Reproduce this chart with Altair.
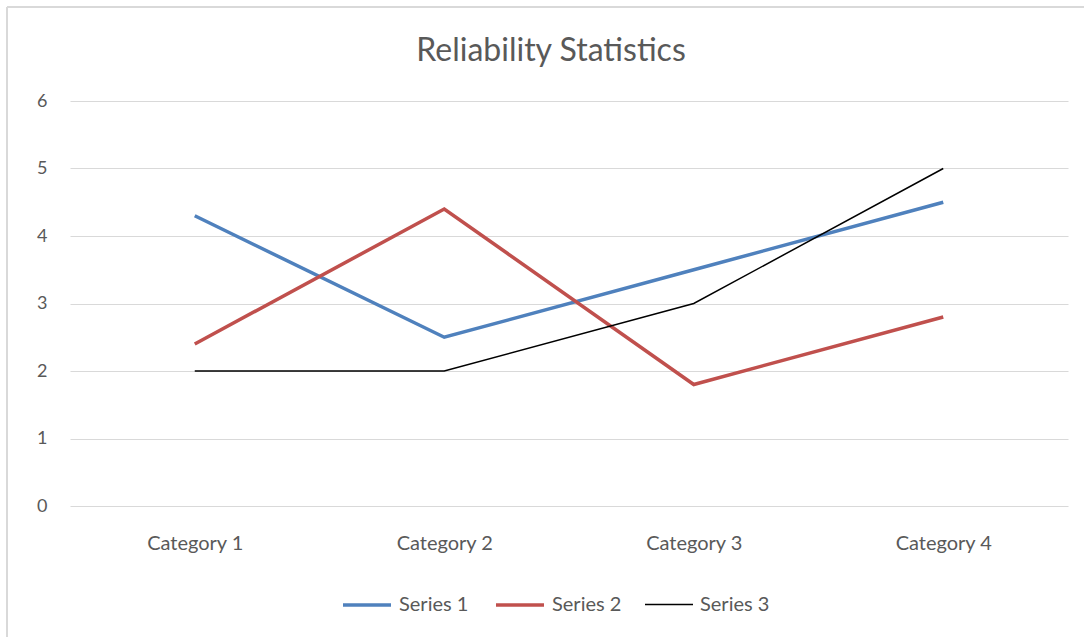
import altair as alt
import pandas as pd

categories = ["Category 1", "Category 2", "Category 3", "Category 4"]
series_names = ["Series 1", "Series 2", "Series 3"]
series1 = [4.3, 2.5, 3.5, 4.5]
series2 = [2.4, 4.4, 1.8, 2.8]
series3 = [2.0, 2.0, 3.0, 5.0]
colors = ["#4F81BD", "#C0504D", "#000000"]
widths = [3.5, 3.5, 1.5]
title_text = "Reliability Statistics"

rows = []
for name, vals in zip(series_names, [series1, series2, series3]):
    for c, v in zip(categories, vals):
        rows.append({"category": c, "series": name, "value": v})
df = pd.DataFrame(rows)

FONT = "Lato"
GRAY = "#595959"

lines = alt.Chart(df).mark_line().encode(
    x=alt.X("category:N", sort=categories,
            scale=alt.Scale(type="point", padding=0.5),
            axis=alt.Axis(title=None, labelAngle=0, ticks=False, domain=False, grid=False,
                          labelPadding=27, labelFontSize=20, labelColor=GRAY, labelFont=FONT)),
    y=alt.Y("value:Q", scale=alt.Scale(domain=[0, 6]),
            axis=alt.Axis(title=None, values=[0, 1, 2, 3, 4, 5, 6], ticks=False, domain=False,
                          gridColor="#d9d9d9", gridWidth=1.2, labelPadding=23,
                          labelFontSize=18, labelColor=GRAY, labelFont=FONT)),
    color=alt.Color("series:N", sort=series_names,
                    scale=alt.Scale(domain=series_names, range=colors),
                    legend=alt.Legend(title=None, orient="none", direction="horizontal",
                                      legendX=271, legendY=478,
                                      symbolType="stroke", symbolSize=2304,
                                      labelFontSize=20, labelColor=GRAY, labelFont=FONT,
                                      labelOffset=6, columnPadding=20)),
    strokeWidth=alt.StrokeWidth("series:N", sort=series_names,
                                scale=alt.Scale(type="ordinal", domain=series_names, range=widths)),
)

border_top = alt.Chart(df).mark_rule(color="#d9d9d9", strokeWidth=2).encode(
    x=alt.value(-63), x2=alt.value(1020), y=alt.value(-94))
border_left = alt.Chart(df).mark_rule(color="#d9d9d9", strokeWidth=2).encode(
    x=alt.value(-63), y=alt.value(-94), y2=alt.value(540))

title = alt.Chart(pd.DataFrame({"t": [title_text]})).mark_text(
    font=FONT, fontSize=32, color=GRAY, align="center", baseline="alphabetic"
).encode(text="t:N", x=alt.value(481), y=alt.value(-40))

chart = alt.layer(border_top, border_left, title, lines).properties(
    width=998, height=405,
    autosize=alt.AutoSizeParams(type="none"),
    padding={"left": 70, "top": 101, "right": 16, "bottom": 131},
    background="white",
).configure_view(stroke=None)

chart.save("out.html", embed_options={"renderer": "svg", "actions": False})
